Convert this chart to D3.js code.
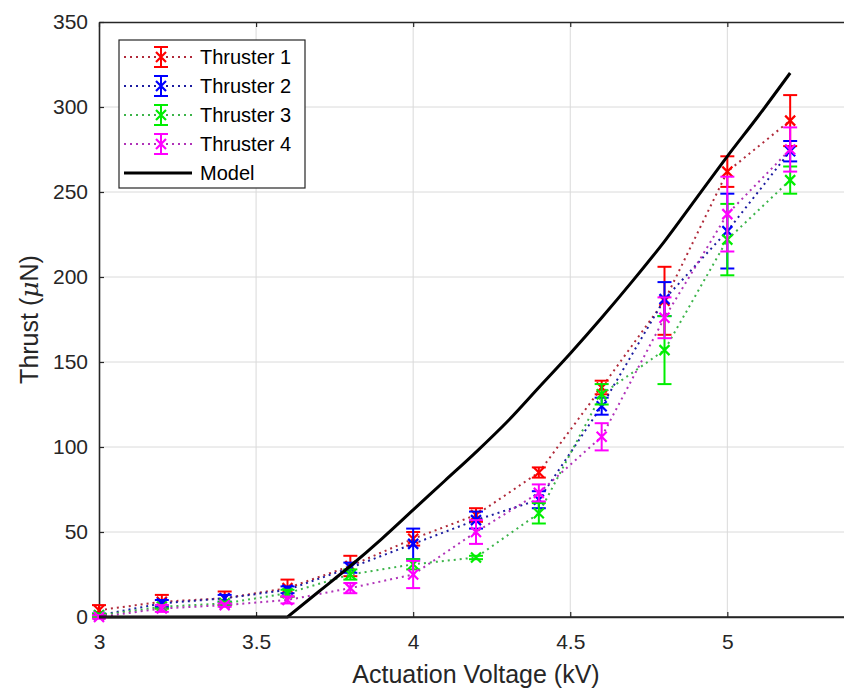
<!DOCTYPE html>
<html>
<head>
<meta charset="utf-8">
<script src="https://cdn.jsdelivr.net/npm/d3@7"></script>
<style>
  html, body { margin: 0; padding: 0; background: #fff; }
  svg { display: block; }
</style>
</head>
<body>
<div id="container"></div>
<script>
// data
const voltage = [3.0, 3.2, 3.4, 3.6, 3.8, 4.0, 4.2, 4.4, 4.6, 4.8, 5.0, 5.2];

const thruster1 = [4, 9, 11, 17, 30, 46, 60, 85, 135, 186, 262, 292];
const thruster1Err = [3, 4, 4, 5, 6, 4, 4, 3, 4, 20, 9, 15];
const thruster2 = [1, 8, 11, 16, 29, 43, 57, 69, 124, 187, 227, 274];
const thruster2Err = [1, 2, 2, 2, 3, 9, 5, 5, 5, 10, 22, 6];
const thruster3 = [1, 6, 8, 14, 25, 31, 35, 61, 131, 157, 222, 257];
const thruster3Err = [1, 1, 1, 2, 3, 3, 1, 6, 6, 20, 21, 8];
const thruster4 = [0, 5, 7, 10, 17, 25, 50, 73, 106, 176, 237, 275];
const thruster4Err = [1, 2, 1, 2, 3, 8, 7, 5, 8, 12, 22, 13];

const modelVoltage = [3.0, 3.6, 3.7, 3.8, 3.9, 4.0, 4.1, 4.2, 4.3, 4.4, 4.5, 4.6, 4.7, 4.8, 4.9, 5.0, 5.1, 5.2];
const modelThrust = [0, 0, 15, 30, 46, 63, 80, 97, 115, 135, 155, 176, 198, 221, 246, 271, 295, 320];

const seriesNames = ["Thruster 1", "Thruster 2", "Thruster 3", "Thruster 4"];
const xTicks = [3, 3.5, 4, 4.5, 5];
const yTicks = [0, 50, 100, 150, 200, 250, 300, 350];

// svg size
const width = 844;
const height = 690;

// plot box (right side runs past the picture edge)
const plotLeft = 99;
const plotRight = 853;
const plotTop = 22;
const plotBottom = 617;

// font
const fontFamily = "'Liberation Sans', Arial, Helvetica, sans-serif";
const tickFontSize = "21px";
const labelFontSize = "25px";
const legendFontSize = "20px";

// marks
const markColors = ["#ff0000", "#0000ff", "#00ee00", "#ff00ff"];
const lineColors = ["#b02a3a", "#1c1ca0", "#3cb44a", "#b032b8"];
const capHalf = 7;
const markerHalf = 5;

const series = [
    {name: seriesNames[0], values: thruster1, err: thruster1Err},
    {name: seriesNames[1], values: thruster2, err: thruster2Err},
    {name: seriesNames[2], values: thruster3, err: thruster3Err},
    {name: seriesNames[3], values: thruster4, err: thruster4Err}
].map((s, i) => ({...s, color: markColors[i], lineColor: lineColors[i],
                  points: voltage.map((v, j) => ({v: v, t: s.values[j], e: s.err[j]}))}));

const model = modelVoltage.map((v, i) => ({v: v, t: modelThrust[i]}));

const x = d3.scaleLinear().domain([3, 5.4]).range([plotLeft, plotRight]);
const y = d3.scaleLinear().domain([0, 350]).range([plotBottom, plotTop]);

const svg = d3.select("#container").append("svg")
      .attr("width", width)
      .attr("height", height)
      .attr("font-family", fontFamily);

svg.append("rect").attr("width", width).attr("height", height).attr("fill", "#fff");

// grid
const grid = svg.append("g").attr("stroke", "#dadada").attr("stroke-width", 1);
grid.selectAll("line.gx")
    .data(xTicks.slice(1))
    .join("line")
    .attr("class", "gx")
    .attr("x1", d => x(d)).attr("x2", d => x(d))
    .attr("y1", plotTop).attr("y2", plotBottom);
grid.selectAll("line.gy")
    .data(yTicks.slice(1, -1))
    .join("line")
    .attr("class", "gy")
    .attr("x1", plotLeft).attr("x2", plotRight)
    .attr("y1", d => y(d)).attr("y2", d => y(d));

// axes, ticks point inwards
const xAxis = svg.append("g")
      .attr("transform", `translate(0,${plotBottom})`)
      .call(d3.axisBottom(x).tickValues(xTicks).tickFormat(d3.format("")).tickSize(-5).tickSizeOuter(0).tickPadding(17));
const xTop = svg.append("g")
      .attr("transform", `translate(0,${plotTop})`)
      .call(d3.axisTop(x).tickValues(xTicks).tickFormat("").tickSize(-5).tickSizeOuter(0));
const yAxis = svg.append("g")
      .attr("transform", `translate(${plotLeft},0)`)
      .call(d3.axisLeft(y).tickValues(yTicks).tickSize(-5).tickSizeOuter(0).tickPadding(11));

[xAxis, xTop, yAxis].forEach(g => {
    g.select(".domain").attr("stroke", "#262626").attr("stroke-width", 1.6);
    g.selectAll(".tick line").attr("stroke", "#262626").attr("stroke-width", 1.2);
    g.selectAll(".tick text")
	.attr("fill", "#262626")
	.attr("font-size", tickFontSize)
	.attr("font-family", fontFamily);
});

// axis titles
svg.append("text")
    .attr("x", (plotLeft + plotRight) / 2)
    .attr("y", 683)
    .attr("text-anchor", "middle")
    .attr("font-size", labelFontSize)
    .attr("fill", "#262626")
    .text("Actuation Voltage (kV)");

const yTitle = svg.append("text")
      .attr("transform", `translate(38,${(plotTop + plotBottom) / 2}) rotate(-90)`)
      .attr("text-anchor", "middle")
      .attr("font-size", labelFontSize)
      .attr("fill", "#262626");
yTitle.append("tspan").text("Thrust (");
yTitle.append("tspan").attr("font-style", "italic").attr("font-family", "'DejaVu Serif', serif").text("\u03bc");
yTitle.append("tspan").text("N)");

// series
const line = d3.line().x(d => x(d.v)).y(d => y(d.t));

const groups = svg.selectAll("g.series")
      .data(series)
      .join("g")
      .attr("class", "series");

groups.append("path")
    .attr("d", d => line(d.points))
    .attr("fill", "none")
    .attr("stroke", d => d.lineColor)
    .attr("stroke-width", 2)
    .attr("stroke-dasharray", "2,4");

function drawErrorBar(g, color) {
    g.append("line")
	.attr("x1", d => x(d.v)).attr("x2", d => x(d.v))
	.attr("y1", d => y(d.t - d.e)).attr("y2", d => y(d.t + d.e))
	.attr("stroke", color).attr("stroke-width", 2);
    [-1, 1].forEach(s => {
	g.append("line")
	    .attr("x1", d => x(d.v) - capHalf).attr("x2", d => x(d.v) + capHalf)
	    .attr("y1", d => y(d.t + s * d.e)).attr("y2", d => y(d.t + s * d.e))
	    .attr("stroke", color).attr("stroke-width", 2);
    });
    g.append("path")
	.attr("d", d => {
	    const cx = x(d.v), cy = y(d.t), m = markerHalf;
	    return `M${cx - m},${cy - m}L${cx + m},${cy + m}M${cx - m},${cy + m}L${cx + m},${cy - m}`;
	})
	.attr("stroke", color).attr("stroke-width", 2.2).attr("fill", "none");
}

groups.each(function(s) {
    const pts = d3.select(this).selectAll("g.pt")
	  .data(s.points)
	  .join("g")
	  .attr("class", "pt");
    drawErrorBar(pts, s.color);
});

// model: flat part, then a smooth rise after the threshold
const onset = model.findIndex(d => d.t > 0) - 1;
svg.append("path")
    .attr("d", line(model.slice(0, onset + 1)) + d3.line().x(d => x(d.v)).y(d => y(d.t))
	  .curve(d3.curveMonotoneX)(model.slice(onset)).replace(/^M/, "L"))
    .attr("fill", "none")
    .attr("stroke", "#000")
    .attr("stroke-width", 3)
    .attr("stroke-linejoin", "miter");

// bottom box line drawn again on top
svg.append("line").attr("x1", plotLeft).attr("x2", plotRight).attr("y1", plotBottom).attr("y2", plotBottom)
    .attr("stroke", "#262626").attr("stroke-width", 1.6);

// legend
const legendX = 119, legendY = 40, legendW = 186, legendH = 148;
const legendRowH = 29;
const legend = svg.append("g");
legend.append("rect")
    .attr("x", legendX).attr("y", legendY)
    .attr("width", legendW).attr("height", legendH)
    .attr("fill", "#fff")
    .attr("stroke", "#262626")
    .attr("stroke-width", 1.2);

const legendItems = legend.selectAll("g.item")
      .data(series.map(s => s.name).concat(["Model"]))
      .join("g")
      .attr("class", "item")
      .attr("transform", (d, i) => `translate(${legendX}, ${legendY + 17 + i * legendRowH})`);

legendItems.each(function(name, i) {
    const g = d3.select(this);
    if (i < series.length) {
	g.append("line")
	    .attr("x1", 5).attr("x2", 73).attr("y1", 0).attr("y2", 0)
	    .attr("stroke", series[i].lineColor).attr("stroke-width", 2)
	    .attr("stroke-dasharray", "2,4");
	const cx = 42;
	g.append("line").attr("x1", cx).attr("x2", cx).attr("y1", -10).attr("y2", 10)
	    .attr("stroke", series[i].color).attr("stroke-width", 2);
	[-10, 10].forEach(yy => g.append("line")
			  .attr("x1", cx - capHalf).attr("x2", cx + capHalf)
			  .attr("y1", yy).attr("y2", yy)
			  .attr("stroke", series[i].color).attr("stroke-width", 2));
	g.append("path")
	    .attr("d", `M${cx - 5},-5L${cx + 5},5M${cx - 5},5L${cx + 5},-5`)
	    .attr("stroke", series[i].color).attr("stroke-width", 2.2);
    } else {
	g.append("line")
	    .attr("x1", 5).attr("x2", 73).attr("y1", 0).attr("y2", 0)
	    .attr("stroke", "#000").attr("stroke-width", 3);
    }
    g.append("text")
	.attr("x", 81).attr("y", 0).attr("dy", "0.35em")
	.attr("font-size", legendFontSize)
	.attr("fill", "#000")
	.text(name);
});
</script>
</body>
</html>
